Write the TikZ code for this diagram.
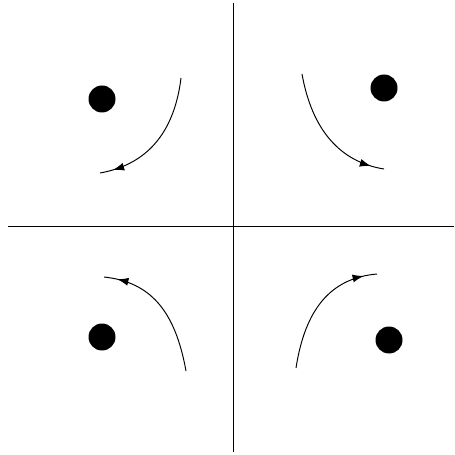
\documentclass[tikz,border=0pt]{standalone}
\usepackage{tikz}
\usetikzlibrary{arrows.meta,decorations.markings}

\begin{document}
\begin{tikzpicture}[x=0.02cm,y=-0.02cm,
      axis/.style={line width=0.45pt},
      well/.style={circle,fill=black,minimum size=5.4mm,inner sep=0pt},
      orbit/.style={line width=0.55pt,postaction={decorate},
                    decoration={markings,mark=at position 0.9 with
                      {\arrow{Latex[length=2.2mm,width=1.6mm]}}}}]
    \useasboundingbox (0,0) rectangle (454,455);
    % axes
    \coordinate (top) at (233,3);
    \coordinate (bottom) at (233,452);
    \coordinate (left) at (8,226);
    \coordinate (right) at (454,226);
    \draw[axis] (top) -- (bottom);
    \draw[axis] (left) -- (right);

    % fixed points
    \node[well] (wellTL) at (102,99) {};
    \node[well] (wellTR) at (384,88) {};
    \node[well] (wellBL) at (102,337) {};
    \node[well] (wellBR) at (389,340) {};

    % trajectories
    \draw[orbit] (181,78) .. controls (174,135) and (145,165) .. (100,173);
    \draw[orbit] (302,74) .. controls (312,130) and (340,162) .. (384,169);
    \draw[orbit] (186,371) .. controls (175,310) and (150,282) .. (104,277);
    \draw[orbit] (296,368) .. controls (305,310) and (330,278) .. (377,274);
  \end{tikzpicture}
\end{document}
